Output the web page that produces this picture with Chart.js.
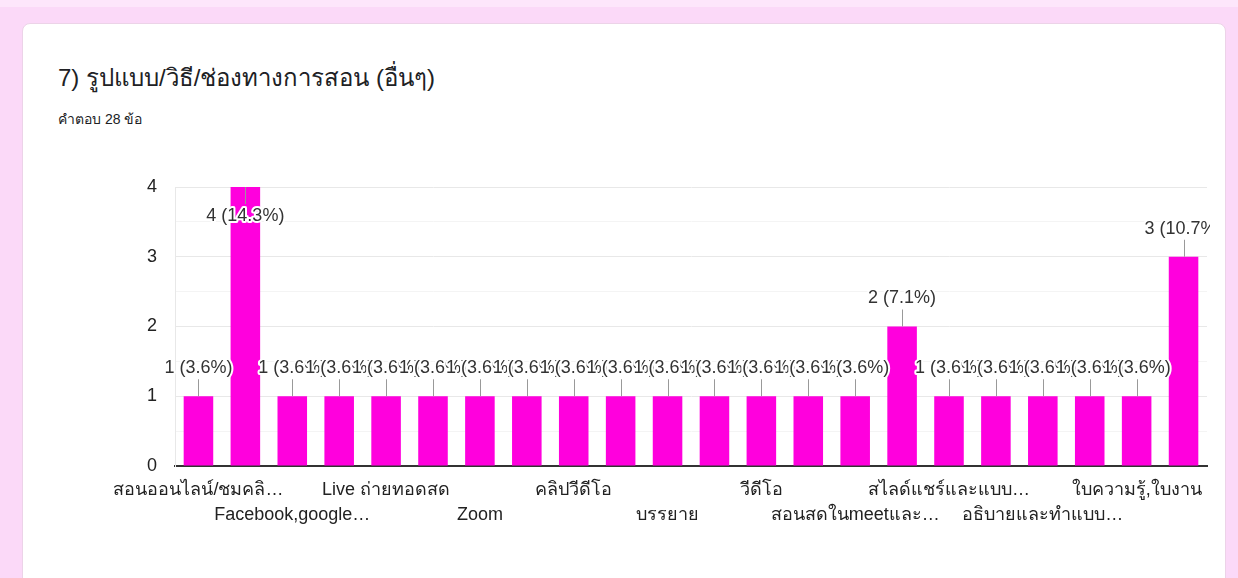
<!DOCTYPE html>
<html>
<head>
<meta charset="utf-8">
<script src="https://cdn.jsdelivr.net/npm/chart.js@4.4.0/dist/chart.umd.min.js"></script>
<style>
  html, body { margin: 0; padding: 0; }
  body { width: 1238px; height: 578px; background: #fbd9f8; overflow: hidden; position: relative; font-family: Arial, "Liberation Sans", sans-serif; }
  .strip { position: absolute; left: 0; top: 0; width: 1238px; height: 7px; background: #fde6fb; }
  .card { position: absolute; left: 22px; top: 23px; width: 1204px; height: 600px; background: #fff; border-radius: 8px; border: 1px solid #ecd3e8; box-sizing: border-box; }
  .title { position: absolute; left: 58px; top: 58px; font-size: 24px; color: #202124; }
  .sub { position: absolute; left: 58px; top: 108px; font-size: 14px; color: #202124; }
  #wrap { position: absolute; left: 0; top: 0; width: 1238px; height: 578px; }
</style>
</head>
<body>
<div class="strip"></div>
<div class="card"></div>
<div class="title">7) รูปแบบ/วิธี/ช่องทางการสอน (อื่นๆ)</div>
<div class="sub">คำตอบ 28 ข้อ</div>
<div id="wrap"><canvas id="chart"></canvas></div>
<script>
// DATA
const categories = [
  "สอนออนไลน์/ชมคลิ…", "", "Facebook,google…", "", "Live ถ่ายทอดสด", "",
  "Zoom", "", "คลิปวีดีโอ", "", "บรรยาย", "", "วีดีโอ", "",
  "สอนสดในmeetและ…", "", "สไลด์แชร์และแบบ…", "", "อธิบายและทำแบบ…", "",
  "ใบความรู้,ใบงาน", ""
];
const counts = [1, 4, 1, 1, 1, 1, 1, 1, 1, 1, 1, 1, 1, 1, 1, 2, 1, 1, 1, 1, 1, 3];
const totalAnswers = 28;
const yTicks = [0, 1, 2, 3, 4];

const FONT = "Arial, 'Liberation Sans', sans-serif";

// labels "1 (3.6%)" above each bar, with a small stem
const annotations = {
  id: "annotations",
  afterDatasetsDraw(chart) {
    const ctx = chart.ctx;
    const area = chart.chartArea;
    const meta = chart.getDatasetMeta(0);
    ctx.save();
    ctx.beginPath();
    ctx.rect(0, 0, area.right + 3, chart.height);
    ctx.clip();
    ctx.font = "18px " + FONT;
    ctx.textAlign = "center";
    ctx.textBaseline = "middle";
    meta.data.forEach((bar, i) => {
      const v = counts[i];
      const text = v + " (" + (v / totalAnswers * 100).toFixed(1) + "%)";
      let stemEnd, ty;
      if (bar.y - area.top > 40) {
        stemEnd = bar.y - 17; ty = bar.y - 28;
      } else {
        stemEnd = bar.y + 17; ty = bar.y + 29;
      }
      ctx.strokeStyle = "#999";
      ctx.lineWidth = 1;
      ctx.beginPath();
      ctx.moveTo(Math.round(bar.x) + 0.5, bar.y);
      ctx.lineTo(Math.round(bar.x) + 0.5, stemEnd);
      ctx.stroke();
      ctx.lineWidth = 4;
      ctx.lineJoin = "round";
      ctx.strokeStyle = "#fff";
      ctx.strokeText(text, bar.x, ty);
      ctx.fillStyle = "#333";
      ctx.fillText(text, bar.x, ty);
    });
    ctx.restore();
  }
};

new Chart(document.getElementById("chart"), {
  type: "bar",
  data: {
    labels: categories,
    datasets: [{
      data: counts,
      backgroundColor: "#ff00dd",
      categoryPercentage: 1,
      barPercentage: 0.63
    }]
  },
  options: {
    responsive: true,
    maintainAspectRatio: false,
    animation: false,
    layout: { padding: { left: 100, right: 31, top: 187, bottom: 40 } },
    plugins: { legend: { display: false }, tooltip: { enabled: false } },
    scales: {
      x: {
        afterFit(scale) { scale.height = 72; },
        grid: { display: false, drawTicks: false },
        border: { color: "#333", width: 2 },
        ticks: {
          autoSkip: false,
          maxRotation: 0,
          padding: 12,
          color: "#222",
          font: { size: 18, family: FONT, lineHeight: 25 / 18 },
          callback(value, index) {
            if (index % 4 === 0) return categories[index];
            if (index % 4 === 2) return ["", categories[index]];
            return "";
          }
        }
      },
      y: {
        min: 0,
        max: 4,
        afterFit(scale) { scale.width = 75; },
        afterBuildTicks(scale) {
          const t = [];
          yTicks.forEach((v, i) => {
            t.push({ value: v });
            if (i < yTicks.length - 1) t.push({ value: v + 0.5 });
          });
          scale.ticks = t;
        },
        grid: {
          drawTicks: false,
          color: (c) => (c.tick && c.tick.value % 1 !== 0) ? "#f4f4f4" : "#e8e8e8"
        },
        border: { color: "#e8e8e8" },
        ticks: {
          padding: 18,
          color: "#222",
          font: { size: 18, family: FONT },
          callback(value) { return value % 1 === 0 ? value : ""; }
        }
      }
    }
  },
  plugins: [annotations]
});
</script>
</body>
</html>
